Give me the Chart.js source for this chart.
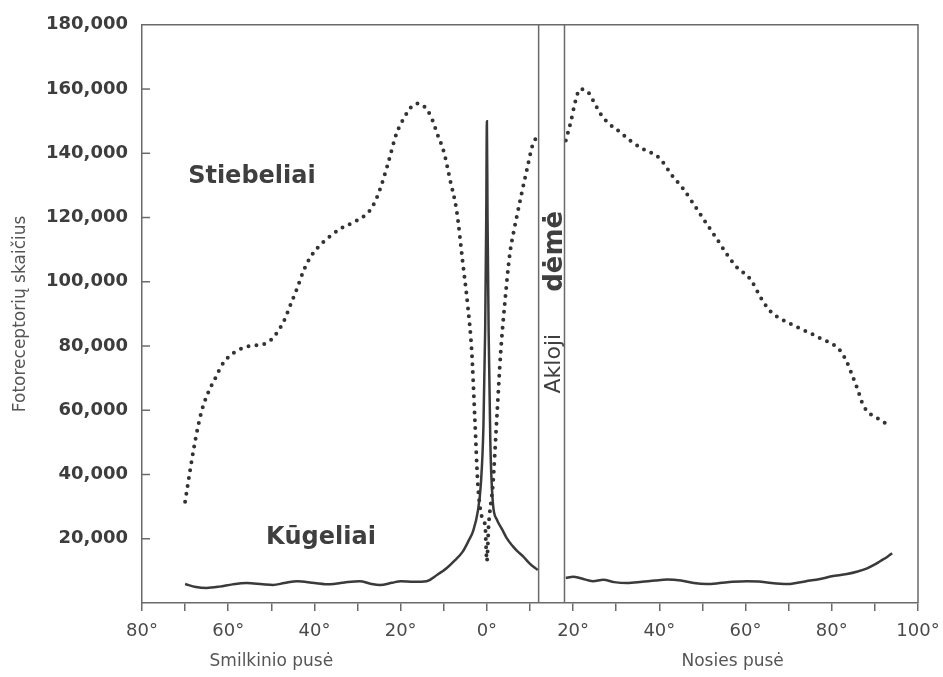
<!DOCTYPE html>
<html><head><meta charset="utf-8">
<script src="https://cdn.jsdelivr.net/npm/chart.js@4/dist/chart.umd.min.js"></script>
<style>html,body{margin:0;padding:0;background:#fff}canvas{display:block}</style>
</head><body>
<canvas id="c" width="943" height="677"></canvas>
<script>
// Angles: negative = temporal side (Smilkinio pusė), positive = nasal side (Nosies pusė)
const rodAngles = [-70,-69,-68,-67,-66,-64.5,-63,-61.5,-60,-58,-55,-52,-50,-48.5,-47,-45.5,-44,-42.5,-41,-39,-36.5,-34,-31,-28,-26.5,-25,-23,-21,-19,-17.5,-16,-14.5,-13,-11.5,-10,-8.5,-7,-5.6,-4.4,-3.5,-2.8,-2.1,-1.2,-0.4,0,0.4,1.4,2.3,3.2,4.2,5.3,6.2,7.2,8.3,9.3,10.7,11.6,
  15,
  18.3,19.5,20.5,21.6,23.5,25,26.5,28.5,31,33.2,36,40,43,45.5,47.8,50,51.7,54,55.7,58,61,64,66,68,71,75,78,80.3,82,83.5,85,86,87,88.2,90,92.8];
const rodValues = [31500,40000,48000,55000,60500,66000,70000,74000,76500,78500,80000,80500,82000,84500,88000,93000,98000,103500,107500,111000,114000,116500,118500,121000,123500,128000,136500,146000,151500,154500,155500,154500,151500,146000,140500,131500,122000,106000,92000,78000,57500,37000,27000,24000,13000,24000,37000,57500,78000,94000,108500,115500,122000,129000,135000,143000,145000,
  null,
  144000,150000,156000,160000,159000,155500,152000,149000,146500,144000,141500,138500,133000,129000,124500,120000,116600,112000,108500,104500,101000,94000,90500,88600,86500,84000,82000,80500,78500,75000,70000,66500,62500,59700,58000,55700];

const coneAngles = [-70,-67.5,-65,-62,-59,-55.7,-52,-49.6,-47,-44,-40,-36.4,-33,-29.5,-27,-24.8,-22,-20,-17,-14,-11.5,-9.3,-7.5,-5.6,-4.2,-3.2,-2.1,-1.4,-0.8,-0.4,-0.15,0,0.15,0.4,0.8,1.4,2.3,3.5,4.6,6,7,8.4,10,11.8,
  15,
  18.3,20,22,24.6,27,29.5,32.5,36,39,41.8,45,48,51,54,57,60.3,63,66,69.6,72,75,77.3,80,83.5,86,88.2,90,91.2,93,94];
const coneValues = [5900,5000,4700,5100,5800,6200,5800,5600,6200,6800,6200,5800,6400,6800,6000,5600,6300,6800,6600,6800,8800,10900,13200,16000,19500,22400,28600,37000,55000,85000,120000,150000,120000,85000,50000,31000,26000,23000,20200,17700,16200,14500,12200,10300,
  null,
  7800,8200,7600,6800,7200,6500,6200,6600,7000,7300,7000,6200,5900,6200,6600,6800,6700,6200,5900,6300,7000,7500,8300,9000,9800,10800,12000,13000,14500,15500];

const blindSpot = [12, 18];
const seriesNames = ['Stiebeliai', 'Kūgeliai'];
const blindSpotWords = ['dėmė', 'Akloji'];
const yTitle = 'Fotoreceptorių skaičius';
const xTitles = ['Smilkinio pusė', 'Nosies pusė'];

const toPoints = (xs, ys) => xs.map((v, i) => ({x: v, y: ys[i]}));
const FONT = "'DejaVu Sans', sans-serif";
const AXIS = '#6a6a6a';

const extras = {
  id: 'extras',
  afterDatasetsDraw(chart) {
    const {ctx, chartArea: a, scales: {x, y}} = chart;
    ctx.save();
    ctx.strokeStyle = AXIS; ctx.lineWidth = 1.5;
    ctx.beginPath();
    ctx.moveTo(a.left, a.top); ctx.lineTo(a.right, a.top); ctx.lineTo(a.right, a.bottom);
    ctx.stroke();
    blindSpot.forEach(v => {
      const px = x.getPixelForValue(v);
      ctx.beginPath(); ctx.moveTo(px, a.top); ctx.lineTo(px, a.bottom); ctx.stroke();
    });
    y.ticks.forEach(t => {
      if (t.value <= 0 || t.value >= 180000) return;
      const py = y.getPixelForValue(t.value);
      ctx.beginPath(); ctx.moveTo(a.left, py); ctx.lineTo(a.left + 8, py); ctx.stroke();
    });
    // series labels
    ctx.fillStyle = '#3f3f3f';
    ctx.font = 'bold 24px ' + FONT;
    ctx.textAlign = 'center'; ctx.textBaseline = 'middle';
    ctx.fillText(seriesNames[0], x.getPixelForValue(-54.5), y.getPixelForValue(132800));
    ctx.fillText(seriesNames[1], x.getPixelForValue(-38.5), y.getPixelForValue(20200));
    // blind spot words (vertical)
    const mid = x.getPixelForValue((blindSpot[0] + blindSpot[1]) / 2);
    ctx.textBaseline = 'alphabetic';
    ctx.save();
    ctx.translate(mid + 10, y.getPixelForValue(109500));
    ctx.rotate(-Math.PI / 2);
    ctx.font = 'bold 26px ' + FONT;
    ctx.fillText(blindSpotWords[0], 0, 0);
    ctx.restore();
    ctx.save();
    ctx.translate(mid + 8, y.getPixelForValue(74500));
    ctx.rotate(-Math.PI / 2);
    ctx.font = '22px ' + FONT;
    ctx.fillText(blindSpotWords[1], 0, 0);
    ctx.restore();
    // x titles
    ctx.fillStyle = '#555';
    ctx.font = '17px ' + FONT;
    ctx.textBaseline = 'middle';
    ctx.fillText(xTitles[0], x.getPixelForValue(-50), 662);
    ctx.fillText(xTitles[1], x.getPixelForValue(57), 662);
    ctx.restore();
  }
};

new Chart(document.getElementById('c'), {
  type: 'line',
  data: {
    datasets: [
      {
        label: seriesNames[0],
        data: toPoints(rodAngles, rodValues),
        borderColor: '#333',
        borderWidth: 4,
        borderDash: [0, 8],
        borderCapStyle: 'round',
        pointRadius: 0,
        fill: false,
        spanGaps: false,
        cubicInterpolationMode: 'monotone'
      },
      {
        label: seriesNames[1],
        data: toPoints(coneAngles, coneValues),
        borderColor: '#3a3a3a',
        borderWidth: 2.5,
        pointRadius: 0,
        fill: false,
        spanGaps: false,
        cubicInterpolationMode: 'monotone'
      }
    ]
  },
  options: {
    responsive: false,
    animation: false,
    layout: {padding: {top: 24, right: 25, left: 0, bottom: 0}},
    plugins: {legend: {display: false}, tooltip: {enabled: false}},
    scales: {
      x: {
        type: 'linear', min: -80, max: 100,
        afterFit: s => { s.height = 74; s.paddingRight = 25; s.paddingLeft = 0; },
        grid: {display: true, drawOnChartArea: false, drawTicks: true, tickLength: 8, color: AXIS, lineWidth: 1.5},
        border: {display: true, color: AXIS, width: 1.5},
        ticks: {
          stepSize: 10, autoSkip: false, maxRotation: 0, padding: 10,
          color: '#4a4a4a', font: {family: FONT, size: 18},
          callback: v => (v % 20 === 0) ? Math.abs(v) + '°' : ''
        }
      },
      y: {
        min: 0, max: 180000,
        afterFit: s => { s.width = 142; },
        grid: {display: false, drawTicks: false},
        border: {display: true, color: AXIS, width: 1.5},
        ticks: {
          stepSize: 20000, padding: 14,
          color: '#3d3d3d', font: {family: FONT, size: 18, weight: 'bold'},
          callback: v => v === 0 ? '' : v.toLocaleString('en-US')
        },
        title: {display: true, text: yTitle, color: '#555', font: {family: FONT, size: 17}, padding: {top: 10, bottom: 0}}
      }
    }
  },
  plugins: [extras]
});
</script>
</body></html>
